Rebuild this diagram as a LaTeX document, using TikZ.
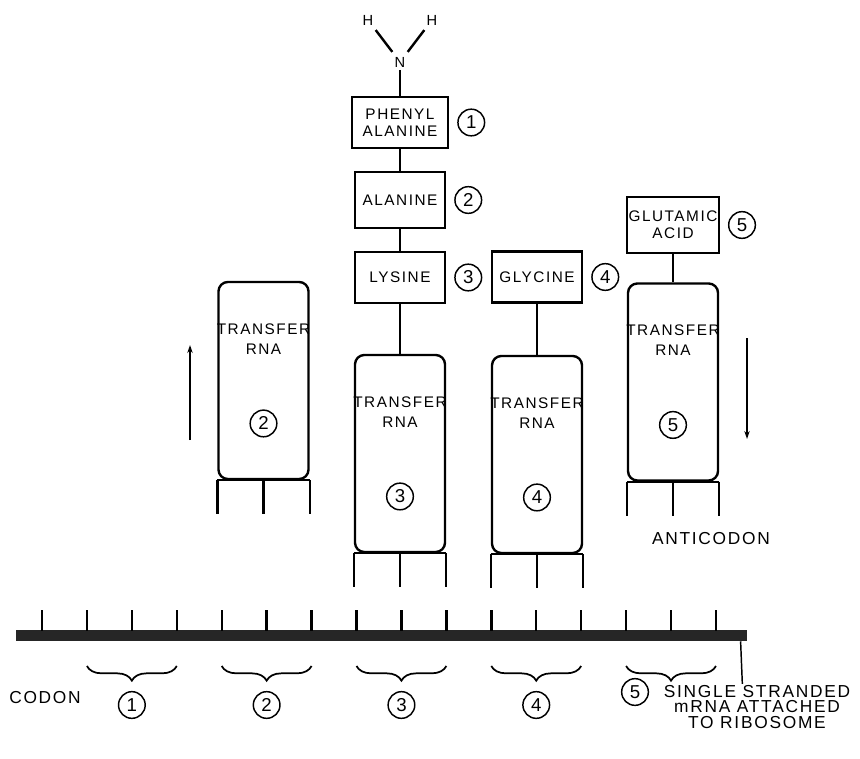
\documentclass[tikz,border=0pt]{standalone}
\usepackage{fontspec}
\setmainfont{Liberation Sans}[LetterSpace=10]
\usetikzlibrary{arrows.meta, positioning, decorations.pathreplacing}

\begin{document}
\begin{tikzpicture}[
		x=0.75pt, y=-0.75pt,
		acide/.style={
			draw,
			line width=1.8pt,
			minimum width=67.5pt,
			minimum height=38.5pt,
			align=center,
			inner sep=1pt,
			font=\fontsize{11.5}{13}\selectfont,
		},
		trna/.style={
			draw,
			line width=1.8pt,
			rounded corners=7pt,
			minimum width=67.5pt,
			minimum height=147.75pt,
		},
		num/.style={
			draw, circle,
			line width=1.1pt,
			minimum size=20pt,
			inner sep=0pt,
			font=\fontsize{14}{14}\selectfont,
		},
		lbl/.style={
			align=center,
			inner sep=1pt,
			font=\fontsize{11.5}{15}\selectfont,
		},
		etiquette/.style={
			align=center,
			inner sep=1pt,
			font=\fontsize{13}{11.5}\selectfont,
		},
		lien/.style={line width=1.8pt},
		fleche/.style={line width=1.3pt, -{Stealth[length=6pt,width=4pt]}},
		accolade/.style={
			line width=1.3pt,
			decorate,
			decoration={brace, mirror, amplitude=11pt},
		},
	]

		\useasboundingbox (0,0) rectangle (860,759);

		% Groupe amine
		\node[font=\fontsize{11}{11}\selectfont, inner sep=2pt] (hg) at (368,20) {H};
		\node[font=\fontsize{11}{11}\selectfont, inner sep=2pt] (hd) at (432,20) {H};
		\node[font=\fontsize{11}{11}\selectfont, inner sep=2pt] (n) at (400,62) {N};
		\draw[lien, shorten <=2pt, shorten >=2pt] (hg) -- (n);
		\draw[lien, shorten <=2pt, shorten >=2pt] (hd) -- (n);

		% Acides aminés
		\node[acide, minimum width=72pt] (phe) at (400,122.5) {PHENYL\\ALANINE};
		\node[acide, minimum height=42pt] (ala) at (400,200) {ALANINE};
		\node[acide] (lys) at (400,277.5) {LYSINE};
		\node[acide] (gly) at (537,277) {GLYCINE};
		\node[acide, minimum height=42pt] (glu) at (673,225) {GLUTAMIC\\ACID};

		\node[num, right=6pt of phe] (n1) {1};
		\node[num, right=6pt of ala] (n2) {2};
		\node[num, right=6pt of lys] (n3) {3};
		\node[num, right=6pt of gly] (n4) {4};
		\node[num, right=6pt of glu] (n5) {5};

		% ARN de transfert
		\node[trna] (t2) at (263.5,380.5) {};
		\node[trna] (t3) at (400,453.5) {};
		\node[trna] (t4) at (537,454.5) {};
		\node[trna] (t5) at (673,382) {};

		\foreach \t/\k in {t2/2, t3/3, t4/4, t5/5} {
			\node[lbl, below=31pt of \t.north] (\t txt) {TRANSFER\\RNA};
			\node[num, above=32pt of \t.south] (\t num) {\k};
			% anticodon
			\draw[lien] (\t.south west) -- (\t.south east);
			\draw[lien] (\t.south west) -- ++(0,34);
			\draw[lien] (\t.south) -- ++(0,34);
			\draw[lien] (\t.south east) -- ++(0,34);
		}

		\node[etiquette] (anticodon) at (711,539) {ANTICODON};

		% Connexions
		\draw[lien] (n) -- (phe);
		\draw[lien] (phe) -- (ala);
		\draw[lien] (ala) -- (lys);
		\draw[lien] (lys) -- (t3);
		\draw[lien] (gly) -- (t4);
		\draw[lien] (glu) -- (t5);

		% Sens du mouvement
		\coordinate (g0) at (190,440);
		\coordinate (g1) at (190,345);
		\coordinate (d0) at (747,338);
		\coordinate (d1) at (747,439);
		\draw[fleche] (g0) -- (g1);
		\draw[fleche] (d0) -- (d1);

		% ARN messager
		\node[fill=black!85, inner sep=0pt, minimum width=548.25pt, minimum height=8.25pt] (arnm) at (381.5,635.5) {};
		\foreach \i in {0,...,15}
			\draw[lien] ({42+44.93*\i},610) -- ++(0,21);

		% Codons
		\foreach \k in {1,...,5}
			\draw[accolade] ({42+44.93*(3*\k-2)},666) -- ({42+44.93*(3*\k)},666);
		\foreach \k in {1,...,4}
			\node[num] (c\k) at ({42+44.93*(3*\k-1)},705) {\k};
		\node[num] (c5) at (635,692) {5};

		\node[etiquette] (codon) at (45,698) {CODON};
		\node[etiquette] (note) at (757,707) {SINGLE STRANDED\\mRNA ATTACHED\\TO RIBOSOME};
		\draw[line width=1.1pt] ([xshift=-5pt]arnm.south east) -- ([xshift=-11pt]note.north);

	\end{tikzpicture}
\end{document}
